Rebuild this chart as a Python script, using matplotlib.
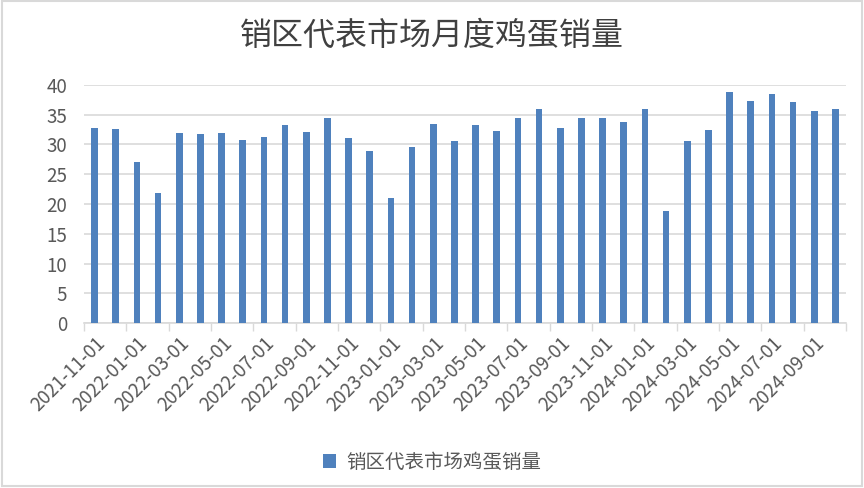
import matplotlib.pyplot as plt
import numpy as np
from matplotlib.patches import Rectangle

plt.rcParams['font.family'] = ['Noto Sans CJK SC', 'DejaVu Sans']

# 数据
months = ['2021-11-01', '2021-12-01', '2022-01-01', '2022-02-01', '2022-03-01', '2022-04-01',
          '2022-05-01', '2022-06-01', '2022-07-01', '2022-08-01', '2022-09-01', '2022-10-01',
          '2022-11-01', '2022-12-01', '2023-01-01', '2023-02-01', '2023-03-01', '2023-04-01',
          '2023-05-01', '2023-06-01', '2023-07-01', '2023-08-01', '2023-09-01', '2023-10-01',
          '2023-11-01', '2023-12-01', '2024-01-01', '2024-02-01', '2024-03-01', '2024-04-01',
          '2024-05-01', '2024-06-01', '2024-07-01', '2024-08-01', '2024-09-01', '2024-10-01']
sales = [32.7, 32.6, 27.0, 21.9, 32.0, 31.7, 31.9, 30.7, 31.2, 33.2, 32.1, 34.5,
         31.0, 28.9, 21.0, 29.5, 33.4, 30.6, 33.2, 32.2, 34.5, 36.0, 32.7, 34.5,
         34.5, 33.7, 36.0, 18.8, 30.6, 32.4, 38.8, 37.3, 38.4, 37.1, 35.7, 36.0]
series_name = '销区代表市场鸡蛋销量'
title = '销区代表市场月度鸡蛋销量'

text_color = '#595959'
bar_color = '#4F81BD'
grid_color = '#D9D9D9'

fig = plt.figure(figsize=(8.64, 4.88), dpi=100)
ax = fig.add_axes([0.0972, 0.338, 0.882, 0.488])

x = np.arange(len(months))
ax.bar(x, sales, width=0.31, color=bar_color, label=series_name, zorder=3)

ax.set_xlim(-0.5, len(months) - 0.5)
ax.set_ylim(0, 40)
ax.set_yticks(np.arange(0, 41, 5))
ax.yaxis.grid(True, color=grid_color, linewidth=1.2, zorder=0)
ax.tick_params(axis='y', length=0, pad=12, labelsize=13.5, labelcolor=text_color)

# 刻度线在每两个类别之间，标签每隔一个月
ax.set_xticks(np.arange(-0.5, len(months), 2))
ax.set_xticklabels([])
ax.set_xticks(x[::2], minor=True)
ax.set_xticklabels(months[::2], minor=True, rotation=45, ha='right', va='top',
                   rotation_mode='anchor', fontsize=13.5, color=text_color)
ax.tick_params(axis='x', which='major', length=6, width=1, color=grid_color, direction='out')
ax.tick_params(axis='x', which='minor', length=0, pad=7)

for s in ['top', 'right', 'left']:
    ax.spines[s].set_visible(False)
ax.spines['bottom'].set_color(grid_color)
ax.spines['bottom'].set_linewidth(1.2)

fig.suptitle(title, y=0.96, fontsize=23, color='#404040')

fig.legend(loc='center', bbox_to_anchor=(0.5, 0.053), frameon=False, fontsize=14,
           labelcolor=text_color, handlelength=0.7, handleheight=0.7, handletextpad=0.5)

# 外边框
fig.patches.append(Rectangle((0.002, 0.004), 0.996, 0.994, transform=fig.transFigure,
                             fill=False, edgecolor=grid_color, linewidth=1.5))

fig.savefig('out.png', dpi=100)
